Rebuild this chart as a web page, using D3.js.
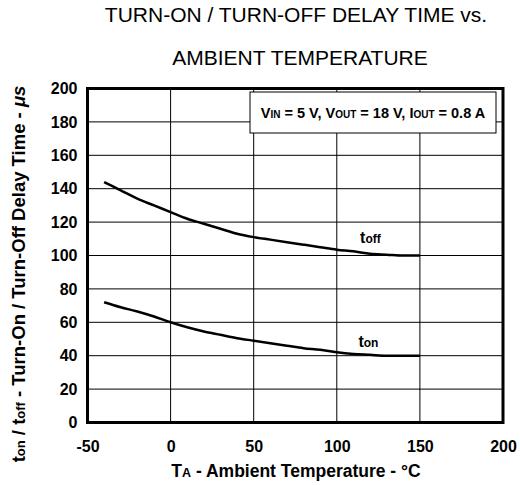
<!DOCTYPE html>
<html><head><meta charset="utf-8">
<script src="https://cdn.jsdelivr.net/npm/d3@7"></script>
<style>body{margin:0;background:#fff;} svg{display:block;font-family:Arial,"Liberation Sans",sans-serif;}</style>
</head><body>
<svg id="c" width="520" height="485"></svg>
<script>
const temps = [-40,-30,-20,-10,0,10,20,30,40,50,60,70,80,90,100,110,120,130,140,150];
const toff  = [144,139,134,130,126,122,119,116,113,111,109.5,108,106.5,105,103.5,102.5,101,100.5,100,100];
const ton   = [72,69,66.5,63.5,60,57,54.5,52.5,50.5,49,47.5,46,44.5,43.5,42,41,40.5,40,40,40];
const xTicks = [-50,0,50,100,150,200];
const yTicks = [0,20,40,60,80,100,120,140,160,180,200];

const svg = d3.select("#c");
const L=87.5, R=503, T=88.5, B=422.5;
const x = d3.scaleLinear().domain([-50,200]).range([L,R]);
const y = d3.scaleLinear().domain([0,200]).range([B,T]);

// title
svg.append("text").attr("x",296).attr("y",22).attr("text-anchor","middle").attr("font-size",21).text("TURN-ON / TURN-OFF DELAY TIME vs.");
svg.append("text").attr("x",300).attr("y",65).attr("text-anchor","middle").attr("font-size",21).text("AMBIENT TEMPERATURE");

// grid
const g = svg.append("g");
g.selectAll(".vg").data(xTicks.slice(1,-1)).join("line")
 .attr("x1",d=>x(d)).attr("x2",d=>x(d)).attr("y1",T).attr("y2",B).attr("stroke","#000").attr("stroke-width",1);
g.selectAll(".hg").data(yTicks.slice(1,-1)).join("line")
 .attr("y1",d=>y(d)).attr("y2",d=>y(d)).attr("x1",L).attr("x2",R).attr("stroke","#000").attr("stroke-width",1);

// axes via d3
const fmt = d=>String(d);
const xa = svg.append("g").attr("transform",`translate(0,${B})`).call(d3.axisBottom(x).tickValues(xTicks).tickFormat(fmt).tickSize(0).tickPadding(18));
const ya = svg.append("g").attr("transform",`translate(${L},0)`).call(d3.axisLeft(y).tickValues(yTicks).tickFormat(fmt).tickSize(0).tickPadding(10));
[xa,ya].forEach(a=>{a.select(".domain").remove(); a.selectAll("text").attr("font-size",16).attr("font-weight","bold").attr("fill","#000").attr("font-family","Arial, 'Liberation Sans', sans-serif");});

// frame
svg.append("rect").attr("x",L).attr("y",T).attr("width",R-L).attr("height",B-T).attr("fill","none").attr("stroke","#000").attr("stroke-width",3);

// curves
const line = d3.line().x((d,i)=>x(temps[i])).y(d=>y(d)).curve(d3.curveMonotoneX);
svg.append("path").attr("d",line(toff)).attr("fill","none").attr("stroke","#000").attr("stroke-width",2.5);
svg.append("path").attr("d",line(ton)).attr("fill","none").attr("stroke","#000").attr("stroke-width",2.5);

// curve labels
function sublabel(xx,yy,main,sub){
  const t=svg.append("text").attr("x",xx).attr("y",yy).attr("font-weight","bold").attr("font-size",16);
  t.append("tspan").text(main);
  t.append("tspan").attr("font-size",12).text(sub);
}
sublabel(x(114),y(107.5),"t","off");
sublabel(x(113),y(45),"t","on");

// legend box
svg.append("rect").attr("x",250).attr("y",92).attr("width",246).attr("height",41).attr("fill","#fff").attr("stroke","#000").attr("stroke-width",1);
const lt = svg.append("text").attr("x",373).attr("y",118).attr("text-anchor","middle").attr("font-weight","bold").attr("font-size",14.5);
[["V",14.5],["IN",10],[" = 5 V, V",14.5],["OUT",10],[" = 18 V, I",14.5],["OUT",10],[" = 0.8 A",14.5]].forEach(([s,f])=>lt.append("tspan").attr("font-size",f).text(s));

// x title
const xt = svg.append("text").attr("x",296).attr("y",477).attr("text-anchor","middle").attr("font-weight","bold").attr("font-size",17.5);
[["T",17.5],["A",12.5],[" - Ambient Temperature - °C",17.5]].forEach(([s,f])=>xt.append("tspan").attr("font-size",f).text(s));

// y title
const yt = svg.append("text").attr("transform",`translate(25,274) rotate(-90)`).attr("text-anchor","middle").attr("font-weight","bold").attr("font-size",18.5);
[["t",18.5,""],["on",13,""],[" / t",18.5,""],["off",13,""],[" - Turn-On / Turn-Off Delay Time - ",18.5,""],["μs",18.5,"italic"]].forEach(([s,f,st])=>{const ts=yt.append("tspan").attr("font-size",f).text(s); if(st) ts.attr("font-style",st);});
</script>
</body></html>
